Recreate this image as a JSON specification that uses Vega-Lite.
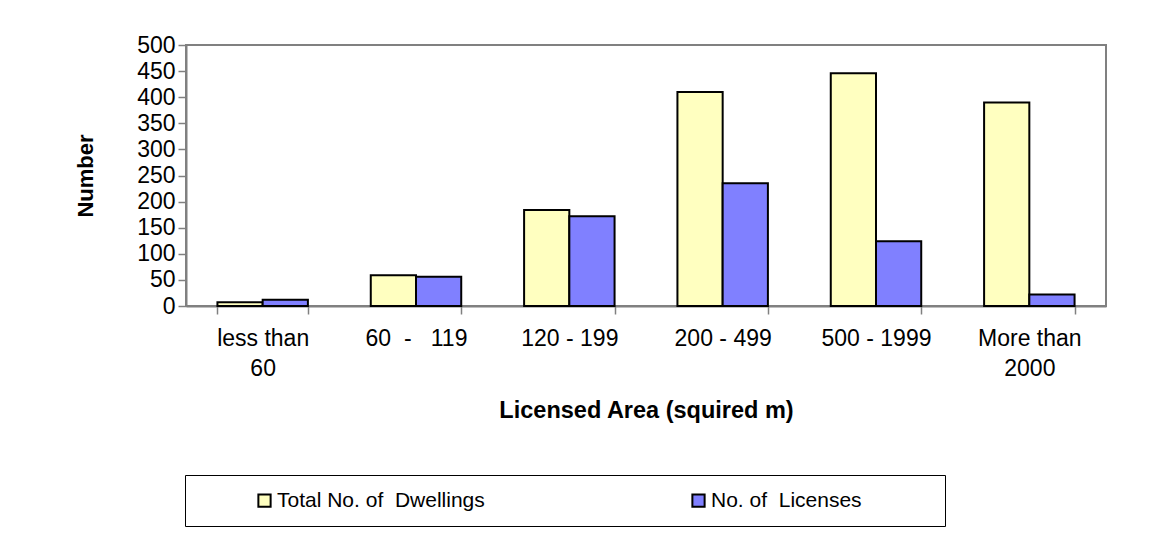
{
  "$schema": "https://vega.github.io/schema/vega-lite/v6.json",
  "autosize": {"type": "none"},
  "padding": {"left": 186, "top": 45, "right": 65, "bottom": 252},
  "width": 920,
  "height": 261,
  "background": "white",
  "config": {
    "font": "Liberation Sans",
    "view": {"stroke": "#808080", "strokeWidth": 2},
    "axis": {"labelFont": "Liberation Sans", "titleFont": "Liberation Sans", "labelColor": "black", "titleColor": "black"}
  },
  "data": {
    "values": [
      {"area": "less than|60", "series": "Total No. of\u00a0 Dwellings", "value": 7},
      {"area": "less than|60", "series": "No. of\u00a0 Licenses", "value": 12},
      {"area": "60 \u00a0- \u00a0 119", "series": "Total No. of\u00a0 Dwellings", "value": 59},
      {"area": "60 \u00a0- \u00a0 119", "series": "No. of\u00a0 Licenses", "value": 56},
      {"area": "120 - 199", "series": "Total No. of\u00a0 Dwellings", "value": 184},
      {"area": "120 - 199", "series": "No. of\u00a0 Licenses", "value": 172},
      {"area": "200 - 499", "series": "Total No. of\u00a0 Dwellings", "value": 410},
      {"area": "200 - 499", "series": "No. of\u00a0 Licenses", "value": 235},
      {"area": "500 - 1999", "series": "Total No. of\u00a0 Dwellings", "value": 446},
      {"area": "500 - 1999", "series": "No. of\u00a0 Licenses", "value": 124},
      {"area": "More than|2000", "series": "Total No. of\u00a0 Dwellings", "value": 390},
      {"area": "More than|2000", "series": "No. of\u00a0 Licenses", "value": 22}
    ]
  },
  "mark": {"type": "bar", "stroke": "black", "strokeWidth": 2},
  "encoding": {
    "x": {
      "field": "area", "type": "nominal", "sort": null,
      "scale": {"paddingInner": 0.41, "paddingOuter": 0.205},
      "axis": {
        "title": "Licensed Area (squired m)",
        "titleFontSize": 23.5, "titleFontWeight": "bold",
        "titleBaseline": "alphabetic", "titleY": 111,
        "labelAngle": 0, "labelFontSize": 23, "labelLineHeight": 30,
        "labelExpr": "split(datum.label, '|')",
        "labelPadding": 13, "labelBaseline": "top",
        "tickBand": "extent", "tickSize": 8, "tickColor": "#808080", "tickWidth": 1.5,
        "domainColor": "#808080", "domainWidth": 2
      }
    },
    "xOffset": {
      "field": "series", "type": "nominal",
      "sort": ["Total No. of\u00a0 Dwellings", "No. of\u00a0 Licenses"],
      "scale": {"paddingInner": 0, "paddingOuter": 0}
    },
    "y": {
      "field": "value", "type": "quantitative",
      "scale": {"domain": [0, 500], "nice": false},
      "axis": {
        "title": "Number", "values": [0, 50, 100, 150, 200, 250, 300, 350, 400, 450, 500],
        "titleFontSize": 22, "titleFontWeight": "bold",
        "titleAngle": -90, "titleBaseline": "middle", "titleAlign": "center",
        "titleX": -101, "titleY": 130.5,
        "labelFontSize": 23, "labelPadding": 3, "labelBaseline": "middle",
        "grid": false, "tickSize": 8, "tickColor": "#808080", "tickWidth": 1.5,
        "domainColor": "#808080", "domainWidth": 2
      }
    },
    "color": {
      "field": "series", "type": "nominal",
      "scale": {"domain": ["Total No. of\u00a0 Dwellings", "No. of\u00a0 Licenses"], "range": ["#FFFFC0", "#8080FF"]},
      "legend": {
        "title": null, "orient": "none", "legendX": -1, "legendY": 430,
        "direction": "horizontal", "columns": 2, "gridAlign": "each",
        "columnPadding": 149, "padding": 15,
        "symbolType": "square", "symbolSize": 150, "symbolOffset": 54,
        "symbolStrokeColor": "black", "symbolStrokeWidth": 2,
        "labelExpr": "indexof(datum.label, 'Licenses') >= 0 ? datum.label + '\u00a0\u00a0\u00a0\u00a0\u00a0\u00a0\u00a0\u00a0\u00a0\u2800' : datum.label",
        "labelFont": "Liberation Sans", "labelFontSize": 21, "labelColor": "black", "labelOffset": 2, "labelLimit": 500,
        "fillColor": "white", "strokeColor": "black"
      }
    }
  }
}
